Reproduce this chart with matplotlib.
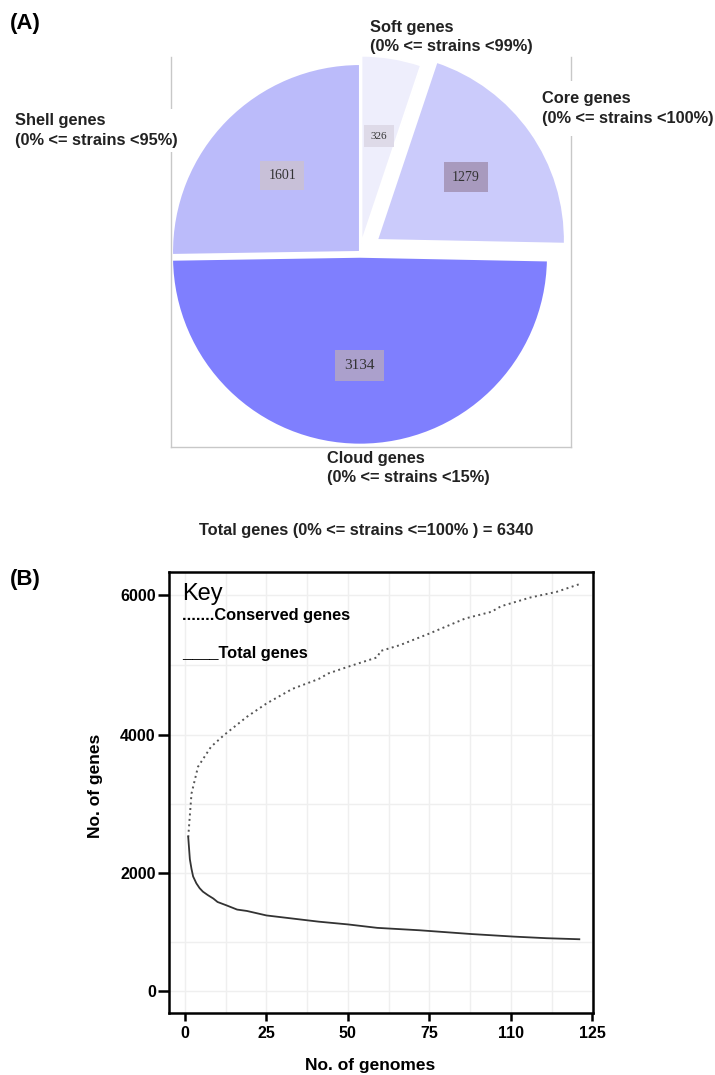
import numpy as np
import matplotlib
matplotlib.use("Agg")
import matplotlib.pyplot as plt

plt.rcParams['font.family'] = ['Liberation Sans', 'DejaVu Sans']

# panel A: gene categories
categories = ['Shell', 'Cloud', 'Core', 'Soft']
gene_counts = [1601, 3134, 1279, 326]
slice_colors = ['#bbbbfa', '#7f7ffe', '#cbcbfb', '#eeeefc']
box_colors = ['#c8c0d8', '#aba0cc', '#a89abe', '#dedae8']
cat_labels = {
    'Shell': 'Shell genes\n(0% <= strains <95%)',
    'Cloud': 'Cloud genes\n(0% <= strains <15%)',
    'Core': 'Core genes\n(0% <= strains <100%)',
    'Soft': 'Soft genes\n(0% <= strains <99%)',
}
total_genes = sum(gene_counts)

# panel B: curves
cons_x = [1, 2, 4, 8, 12, 19, 25, 33, 41, 44, 50, 57, 59, 60, 66, 75, 86, 94, 97, 106, 114, 121]
cons_y = [2520, 3150, 3540, 3830, 4000, 4260, 4450, 4660, 4800, 4880, 4975, 5080, 5110, 5200,
          5285, 5450, 5665, 5760, 5840, 5965, 6045, 6155]
tot_x = [1, 1.5, 2, 2.5, 3.5, 4.5, 5.5, 7, 8.7, 10, 12.8, 16, 19, 25, 33, 41, 50, 59, 72, 88, 101, 111, 121]
tot_y = [2520, 2200, 2060, 1950, 1850, 1780, 1730, 1680, 1630, 1580, 1530, 1470, 1450, 1385,
         1340, 1295, 1255, 1205, 1170, 1115, 1078, 1055, 1040]
xtick_pos = [0, 25, 50, 75, 100, 125]
xtick_lab = ['0', '25', '50', '75', '110', '125']
ytick_pos = [0, 2000, 4000, 6000]

W, H = 715, 1075
fig = plt.figure(figsize=(W / 100, H / 100), dpi=100)


def fx(px):
    return px / W


def fy(py):
    return 1 - py / H


# ---------- (A) pie ----------
axA = fig.add_axes([fx(171), fy(447), 400 / W, 390 / H])
wedges, texts, autotexts = axA.pie(
    gene_counts, colors=slice_colors, startangle=90, counterclock=True,
    explode=[0, 0.025, 0.11, 0.045], frame=True,
    wedgeprops=dict(edgecolor='white', linewidth=1.5),
    autopct=lambda p: f'{round(p * total_genes / 100)}', pctdistance=0.58,
    textprops=dict(family='Liberation Serif', color='#333333'))
for t, bc, n in zip(autotexts, box_colors, gene_counts):
    t.set_fontsize(8 if n < 500 else (11 if n > 3000 else 10))
    t.set_bbox(dict(boxstyle='square,pad=0.6', facecolor=bc, edgecolor='none'))
axA.set_xlim(-(360 - 171) / 188, (571 - 360) / 188)
axA.set_ylim(-(447 - 252) / 188, (252 - 57) / 188)
axA.set_aspect('auto')
axA.set_xticks([])
axA.set_yticks([])
axA.spines['top'].set_visible(False)
for s in ['left', 'right', 'bottom']:
    axA.spines[s].set_color('#c8c8c8')
    axA.spines[s].set_linewidth(1)

lab_kw = dict(fontsize=11.8, fontweight='bold', color='#222222', linespacing=1.4, va='center', ha='left')
fig.text(fx(14.6), fy(130.5), cat_labels['Shell'], bbox=dict(facecolor='white', edgecolor='none', pad=3), **lab_kw)
fig.text(fx(370), fy(37), cat_labels['Soft'], **lab_kw)
fig.text(fx(542), fy(108.5), cat_labels['Core'], bbox=dict(facecolor='white', edgecolor='none', pad=7), **lab_kw)
fig.text(fx(327), fy(468), cat_labels['Cloud'], **lab_kw)
fig.text(fx(366), fy(530), f'Total genes (0% <= strains <=100% ) = {total_genes}',
         fontsize=11.8, fontweight='bold', color='#222222', ha='center', va='center')

fig.text(fx(10), fy(23), '(A)', fontsize=16, fontweight='bold', va='center', ha='left')
fig.text(fx(10), fy(580), '(B)', fontsize=16, fontweight='bold', va='center', ha='left')

# ---------- (B) curves ----------
# the original y axis is not evenly spaced, so use a piecewise scale
v_pts = [-1000, 0, 1000, 2000, 4000, 6000, 8000]
f_pts = [-49, 0, 49, 118, 256, 396, 536]


def fwd(v):
    return np.interp(v, v_pts, f_pts)


def inv(f):
    return np.interp(f, f_pts, v_pts)


axB = fig.add_axes([fx(169), fy(1013), 424 / W, 441 / H])
axB.set_yscale('function', functions=(fwd, inv))
axB.plot(cons_x, cons_y, color='#555555', linewidth=1.4, linestyle=(0, (1, 1.8)))
axB.plot(tot_x, tot_y, color='#333333', linewidth=1.3)
axB.set_xlim(-4.9, 125.2)
axB.set_ylim(-449, 6329)
axB.set_xticks(xtick_pos)
axB.set_xticklabels(xtick_lab)
axB.set_xticks(np.arange(0, 125.1, 12.5), minor=True)
axB.set_yticks(ytick_pos)
axB.set_yticklabels([str(v) for v in ytick_pos])
axB.set_yticks([1000, 3000, 5000], minor=True)
axB.grid(True, which='both', color='#efefef', linewidth=1)
axB.set_axisbelow(True)
for s in axB.spines.values():
    s.set_linewidth(1.8)
axB.tick_params(axis='y', which='major', length=8, width=1.8, pad=1.5, labelsize=11.5)
axB.tick_params(axis='x', which='major', length=6, width=1.8, pad=3.5, labelsize=11.5)
axB.tick_params(which='minor', length=0)
for lab in axB.get_xticklabels() + axB.get_yticklabels():
    lab.set_fontweight('bold')

axB.set_ylabel('No. of genes', fontsize=12.5, fontweight='bold')
axB.yaxis.set_label_coords(-0.155, 0.515)
axB.set_xlabel('No. of genomes', fontsize=12.5, fontweight='bold')
axB.xaxis.set_label_coords(0.474, -0.102)

axB.text(0.030, 0.9365, 'Key', transform=axB.transAxes, fontsize=17, va='baseline', ha='left')
axB.text(0.030, 0.8912, '.......Conserved genes', transform=axB.transAxes, fontsize=11.8,
         fontweight='bold', va='baseline', ha='left')
axB.text(0.030, 0.805, '____Total genes', transform=axB.transAxes, fontsize=11.8,
         fontweight='bold', va='baseline', ha='left')

fig.savefig('out.png', dpi=100)
